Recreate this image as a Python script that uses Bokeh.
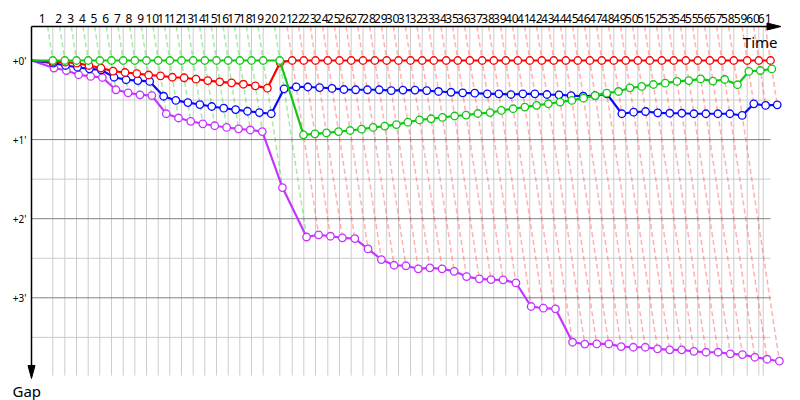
from bokeh.plotting import figure
from bokeh.models import Range1d
from bokeh.embed import file_html
from bokeh.resources import INLINE
from bokeh.core.properties import value

# ---------------- data (seconds) ----------------
laps = list(range(1, 62))
# leader's cumulative race time at the end of each lap
leader_time = [106.5, 166.5, 225, 283.5, 341.5, 400, 458.5, 516.5, 575, 633.5,
               691.5, 750, 808.5, 866.5, 925, 983.5, 1041.5, 1100, 1158.5, 1241.5,
               1303.5, 1361.5, 1420, 1481.5, 1540, 1598.5, 1657.5, 1716.5, 1776, 1835,
               1895, 1953.5, 2011.5, 2073.5, 2131.5, 2191.5, 2253.5, 2311.5, 2371.5, 2431.5,
               2491.5, 2551.5, 2611.5, 2671.5, 2731.5, 2791.5, 2851.5, 2911.5, 2971.5, 3031.5,
               3091.5, 3151.5, 3211.5, 3271.5, 3331.5, 3391.5, 3451.5, 3511.5, 3578.5, 3636.5,
               3695]
flag_time = 3658.5

gap_red = [0.8, 1.3, 2.0, 3.8, 5.7, 8.1, 9.1, 9.9, 11.0, 11.6,
           12.7, 13.1, 14.2, 15.2, 16.2, 16.9, 18.0, 19.2, 21.0, 1.5] + [0.0] * 41
gap_green = [0.0] * 20 + [56.4, 55.6, 54.9, 53.9, 53.1, 52.1, 50.8, 49.8, 48.6, 46.8,
                          45.1, 44.2, 43.2, 42.1, 41.4, 40.2, 39.5, 37.9, 36.6, 35.3,
                          34.0, 32.8, 31.5, 30.3, 28.6, 26.6, 24.8, 23.5, 20.7, 19.7,
                          18.2, 17.2, 15.9, 15.2, 14.0, 15.6, 14.4, 18.4, 8.3, 7.6,
                          6.4]
gap_blue = [2.0, 3.8, 5.1, 6.3, 7.1, 12.7, 14.6, 15.2, 15.9, 27.1,
            30.3, 31.9, 33.4, 34.9, 36.2, 37.2, 38.5, 39.5, 40.4, 21.5,
            20.0, 20.1, 20.5, 21.2, 22.0, 22.2, 22.2, 22.2, 22.8, 22.4,
            22.4, 22.8, 23.5, 24.1, 24.5, 24.8, 25.3, 25.3, 25.8, 25.3,
            25.3, 25.8, 26.0, 26.6, 27.1, 26.6, 25.3, 40.4, 39.2, 38.7,
            39.7, 40.0, 40.0, 40.4, 40.4, 40.4, 40.4, 41.7, 32.9, 34.1,
            33.6]
gap_purple = [5.7, 7.6, 10.8, 12.1, 12.9, 22.2, 24.5, 26.0, 26.6, 40.4,
              43.6, 46.1, 48.0, 49.5, 50.8, 51.8, 52.7, 53.9, 96.4, 133.9,
              132.2, 133.3, 134.5, 135.1, 142.9, 151.0, 155.3, 155.7, 158.0, 157.3,
              158.0, 159.9, 163.9, 165.6, 166.2, 166.4, 168.7, 186.6, 187.9, 188.4,
              213.7, 215.1, 215.0, 215.0, 217.0, 217.5, 217.5, 218.7, 219.5, 219.5,
              220.6, 221.3, 221.3, 222.5, 223.1, 225.1, 226.6, 228.1]

series = [("purple", gap_purple, "#c535ff"),
          ("blue", gap_blue, "#0a0aff"),
          ("red", gap_red, "#ff0000"),
          ("green", gap_green, "#12c812")]
lap_line_colors = {"green": "#00c000", "red": "#ff2020"}

y_ticks = [0, 60, 120, 180]
y_minor = [30, 90, 150, 210]
y_tick_labels = ["+0'", "+1'", "+2'", "+3'"]

# ---------------- geometry ----------------
W, H = 800, 400
X0_PX, SX = 31.0, 0.2          # px of t=0, px per second
Y0_PX, SY = 60.0, 79.1 / 60.0  # px of gap=0, px per second


def dx(px):  # picture px -> data x (layout only)
    return (px - X0_PX) / SX


def dy(py):  # picture px -> data y (layout only)
    return (py - Y0_PX) / SY


p = figure(width=W, height=H, output_backend="svg", toolbar_location=None,
           x_axis_type=None, y_axis_type=None, min_border=0,
           x_range=Range1d(-X0_PX / SX, (W - X0_PX) / SX),
           y_range=Range1d((H - Y0_PX) / SY, -Y0_PX / SY))
p.outline_line_color = None
p.background_fill_color = "white"
p.border_fill_color = "white"

g_top = dy(26)
g_bot = dy(375)
t_end = leader_time[-1]

# vertical grid lines (leader lap ends + flag)
vx = leader_time[:-1] + [flag_time]
p.segment(x0=vx, y0=[g_top] * len(vx), x1=vx, y1=[g_bot] * len(vx),
          line_color="#cccccc", line_width=1)
# horizontal grid
p.segment(x0=[0] * len(y_minor), y0=y_minor, x1=[t_end] * len(y_minor), y1=y_minor,
          line_color="#cccccc", line_width=1)
p.segment(x0=[0] * len(y_ticks), y0=y_ticks, x1=[t_end] * len(y_ticks), y1=y_ticks,
          line_color="#808080", line_width=1)

# lap lines (dashed), colour of the lap leader
for i, T in enumerate(leader_time):
    gaps = [(g[i], name) for name, g, c in series if i < len(g)]
    gmax = max(g for g, n in gaps)
    lead = min(gaps)[1]
    col = lap_line_colors.get(lead, "#ff2020")
    p.line([T + g_top, T + gmax], [g_top, gmax], line_color=col, line_alpha=0.35,
           line_width=1.5, line_dash="5 3")

# series
for name, g, c in series:
    xs = [0] + [leader_time[i] + g[i] for i in range(len(g))]
    ys = [0] + list(g)
    p.line(xs, ys, line_color=c, line_width=2.2)
    p.scatter(xs[1:], ys[1:], size=7.5, marker="circle", fill_color="white",
              line_color=c, line_width=1.3)

# axes
p.line([0, dx(768)], [g_top, g_top], line_color="black", line_width=1.5)
p.patch([dx(766.5), dx(780.5), dx(766.5)], [dy(22.5), dy(26), dy(29.5)],
        fill_color="black", line_color="black")
p.line([0, 0], [g_top, dy(366)], line_color="black", line_width=1.5)
p.patch([dx(27.5), dx(34.5), dx(31)], [dy(365), dy(365), dy(378)],
        fill_color="black", line_color="black")

# lap labels
prev = [0] + leader_time[:-1]
lx = [(a + b) / 2 for a, b in zip(prev, leader_time)]
p.text(lx, [dy(17.5)] * len(lx), text=[str(n) for n in laps],
       text_font=value("Noto Sans"), text_font_size="12px", text_align="center",
       text_baseline="middle", text_color="black")

# y labels
p.text([dx(26)] * len(y_ticks), y_ticks, text=y_tick_labels,
       text_font=value("Noto Sans"), text_font_size="10px", text_align="right",
       text_baseline="middle", text_color="black")

p.text([dx(777)], [dy(41)], text=["Time"], text_font=value("Noto Sans"),
       text_font_size="15px", text_align="right", text_baseline="alphabetic",
       text_color="black")
p.text([dx(12)], [dy(390.5)], text=["Gap"], text_font=value("Noto Sans"),
       text_font_size="15px", text_align="left", text_baseline="alphabetic",
       text_color="black")

open("out.html", "w").write(file_html(p, INLINE))
